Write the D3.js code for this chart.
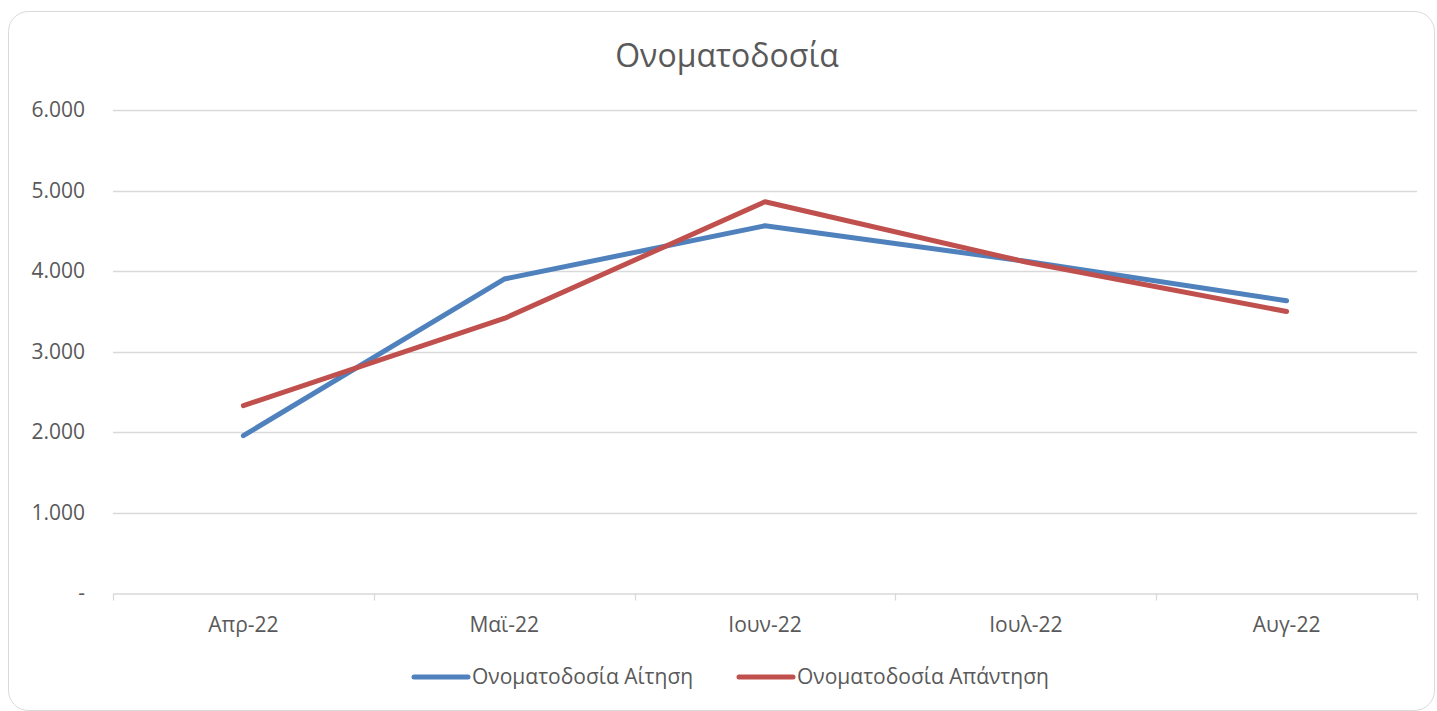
<!DOCTYPE html>
<meta charset="utf-8">
<style>

body {
  margin: 0;
  background: #fff;
  font-family: "Open Sans", sans-serif;
}

</style>
<body>
<script src="https://cdn.jsdelivr.net/npm/d3@7"></script>
<script>

var width = 1437,
    height = 711;

var months = ["Απρ-22", "Μαϊ-22", "Ιουν-22", "Ιουλ-22", "Αυγ-22"];
var aitisi = [1955, 3900, 4562, 4120, 3630];
var apantisi = [2328, 3410, 4860, 4112, 3497];
var yTicks = [0, 1000, 2000, 3000, 4000, 5000, 6000];

var series = [
  {name: "Ονοματοδοσία Αίτηση", values: aitisi, color: "#4f81bd"},
  {name: "Ονοματοδοσία Απάντηση", values: apantisi, color: "#c0504d"}
];

var svg = d3.select("body").append("svg")
    .attr("width", width)
    .attr("height", height);

svg.append("rect")
    .attr("x", 8.5)
    .attr("y", 11.5)
    .attr("width", 1426)
    .attr("height", 699)
    .attr("rx", 20)
    .attr("fill", "#fff")
    .attr("stroke", "#d9d9d9");

var x = d3.scaleBand()
    .domain(months)
    .range([113, 1417]);

var y = d3.scaleLinear()
    .domain([0, 6000])
    .range([593, 110]);

var fmt = function(d) {
  return d === 0 ? "-" : d3.format(",")(d).replace(/,/g, ".");
};

// gridlines
svg.append("g")
  .selectAll("line")
    .data(yTicks.slice(1))
  .enter().append("line")
    .attr("x1", 113)
    .attr("x2", 1417)
    .attr("y1", function(d) { return Math.round(y(d)) + 0.5; })
    .attr("y2", function(d) { return Math.round(y(d)) + 0.5; })
    .attr("stroke", "#d9d9d9")
    .attr("stroke-width", 1.3);

// y labels
svg.append("g")
  .selectAll("text")
    .data(yTicks)
  .enter().append("text")
    .attr("x", 85)
    .attr("y", function(d) { return y(d); })
    .attr("dy", "0.35em")
    .attr("text-anchor", "end")
    .attr("fill", "#595959")
    .style("font-size", "21px")
    .text(fmt);

// x axis
var xAxis = d3.axisBottom(x).tickSize(0).tickPadding(22);
var gx = svg.append("g")
    .attr("transform", "translate(0," + 593.5 + ")")
    .call(xAxis);
gx.select(".domain").attr("stroke", "#d9d9d9").attr("stroke-width", 1.3);
gx.selectAll("text")
    .attr("y", 0)
    .attr("dy", 38)
    .attr("fill", "#595959")
    .style("font-size", "21px")
    .style("font-family", "Open Sans, sans-serif");

var bounds = months.map(function(m) { return x(m); }).concat([1417]);
gx.selectAll(".sep")
    .data(bounds)
  .enter().append("line")
    .attr("x1", function(d) { return Math.round(d) + 0.5; })
    .attr("x2", function(d) { return Math.round(d) + 0.5; })
    .attr("y1", 0)
    .attr("y2", 7)
    .attr("stroke", "#d9d9d9")
    .attr("stroke-width", 1.3);

// lines
var line = d3.line()
    .x(function(d, i) { return x(months[i]) + x.bandwidth() / 2; })
    .y(function(d) { return y(d); });

svg.append("g")
  .selectAll("path")
    .data(series)
  .enter().append("path")
    .attr("d", function(d) { return line(d.values); })
    .attr("fill", "none")
    .attr("stroke", function(d) { return d.color; })
    .attr("stroke-width", 5)
    .attr("stroke-linecap", "round")
    .attr("stroke-linejoin", "round");

// title
svg.append("text")
    .attr("x", 727)
    .attr("y", 67)
    .attr("text-anchor", "middle")
    .attr("fill", "#595959")
    .style("font-size", "32px")
    .text("Ονοματοδοσία");

// legend
var legendX = [414, 739];
var lg = svg.append("g")
  .selectAll("g")
    .data(series)
  .enter().append("g")
    .attr("transform", function(d, i) { return "translate(" + legendX[i] + ",677)"; });

lg.append("line")
    .attr("x1", 0)
    .attr("x2", 54)
    .attr("stroke", function(d) { return d.color; })
    .attr("stroke-width", 5)
    .attr("stroke-linecap", "round");

lg.append("text")
    .attr("x", 58)
    .attr("dy", "0.35em")
    .attr("fill", "#595959")
    .style("font-size", "21px")
    .text(function(d) { return d.name; });

</script>
